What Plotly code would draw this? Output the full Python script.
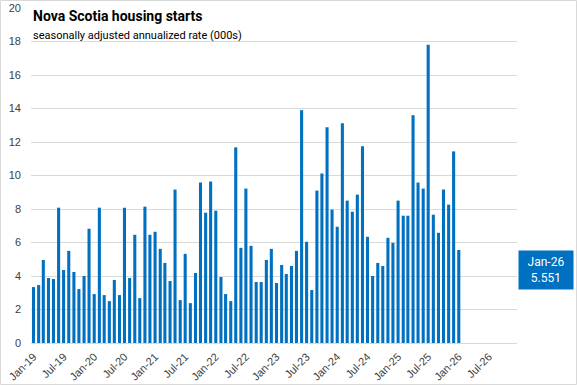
import plotly.graph_objects as go
import pandas as pd

start_month = "2019-01-01"
values = [3.34, 3.46, 4.96, 3.88, 3.82, 8.08, 4.36, 5.50, 4.24, 3.22, 4.00, 6.82,
          2.92, 8.08, 2.86, 2.50, 3.76, 2.86, 8.08, 3.88, 6.46, 2.68, 8.14, 6.46,
          6.64, 5.62, 4.78, 3.70, 9.16, 2.56, 5.32, 2.38, 4.18, 9.58, 7.78, 9.64,
          7.90, 3.94, 2.92, 2.50, 11.68, 5.68, 9.22, 5.80, 3.64, 3.64, 4.96, 5.62,
          3.58, 4.66, 4.12, 4.60, 5.50, 13.90, 6.04, 3.16, 9.10, 10.12, 12.88, 7.96,
          6.94, 13.12, 8.50, 7.84, 8.86, 11.74, 6.34, 4.00, 4.78, 4.60, 6.28, 5.98,
          8.50, 7.60, 7.60, 13.60, 9.58, 9.22, 17.80, 7.66, 6.58, 9.16, 8.26, 11.44,
          5.551]
last_label = "Jan-26"
last_value_text = "5.551"
title_text = "Nova Scotia housing starts"
subtitle_text = "seasonally adjusted annualized rate (000s)"
y_ticks = list(range(0, 21, 2))

dates = pd.date_range(start_month, periods=len(values), freq="MS")

BLUE = "#0070C0"
GRID = "#D9D9D9"
TXT = "#404040"

# plot area pixel geometry
L, R, T, B = 31, 60, 8, 42
W, H = 577, 385
pw, ph = W - L - R, H - T - B

def px_x(px):
    return (px - L) / pw

def px_y(py):
    return (H - B - py) / ph

fig = go.Figure()
fig.add_trace(go.Bar(x=dates, y=values, marker_color=BLUE, marker_line_width=0,
                     hoverinfo="x+y"))

fig.update_layout(
    width=W, height=H,
    margin=dict(l=L, r=R, t=T, b=B, autoexpand=False),
    paper_bgcolor="white", plot_bgcolor="white",
    bargap=0.34, showlegend=False,
    font=dict(family="Liberation Sans", size=11, color=TXT),
)
fig.update_xaxes(
    type="date", automargin=False,
    range=["2018-12-17", "2026-12-17"],
    tick0=start_month, dtick="M6", tickformat="%b-%y",
    tickangle=-45, showgrid=False,
    showline=True, linecolor=GRID, linewidth=1,
    ticks="", ticklabelstandoff=2, tickfont=dict(size=11, color=TXT),
)
fig.update_yaxes(
    range=[0, 20], tickvals=y_ticks, automargin=False,
    showgrid=True, gridcolor=GRID, gridwidth=1,
    zeroline=False, showline=False, ticks="", ticklabelstandoff=9,
    tickfont=dict(size=11, color=TXT),
)

fig.add_annotation(text="<b>" + title_text + "</b>", xref="paper", yref="paper",
                   x=px_x(31), y=px_y(16), xanchor="left", yanchor="middle",
                   showarrow=False, font=dict(family="Roboto", size=14, color="#000000"))
fig.add_annotation(text=subtitle_text, xref="paper", yref="paper",
                   x=px_x(31), y=px_y(35), xanchor="left", yanchor="middle",
                   showarrow=False, font=dict(family="Roboto", size=11, color="#000000"))

fig.add_annotation(text=last_label + "<br>" + last_value_text,
                   xref="paper", yref="y", x=px_x(518), y=values[-1],
                   xanchor="left", yanchor="top", showarrow=False,
                   width=54, height=38, bgcolor=BLUE, borderpad=0,
                   font=dict(family="Roboto", size=12, color="white"))

fig.add_shape(type="rect", xref="paper", yref="paper",
              x0=px_x(0.5), x1=px_x(576.5), y0=px_y(384.5), y1=px_y(0.5),
              line=dict(color=GRID, width=1), fillcolor="rgba(0,0,0,0)", layer="below")

fig.write_html("out.html", config={"displayModeBar": False},
               post_script="document.body.style.margin='0';document.body.style.overflow='hidden';")
